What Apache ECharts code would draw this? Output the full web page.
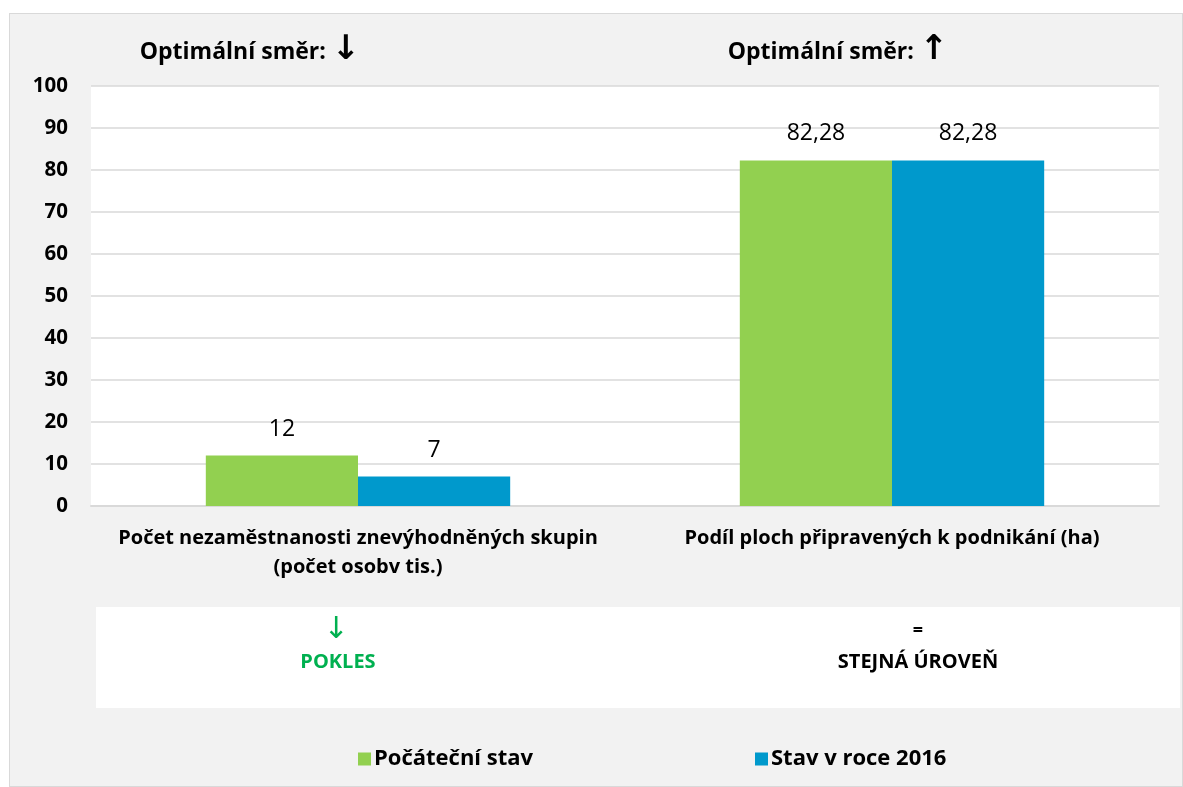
<!DOCTYPE html>
<html>
<head lang="cs">
    <meta charset="UTF-8">
    <title>Optimální směr</title>
    <script src="https://cdn.jsdelivr.net/npm/echarts@6/dist/echarts.min.js"></script>
</head>
<style type="text/css">
    body { margin: 0; background: #fff; }
    #box { position: absolute; left: 9px; top: 13px; width: 1174px; height: 774px;
           background: #f2f2f2; border: 1px solid #d9d9d9; box-sizing: border-box; }
    #main { position: absolute; left: 0; top: 0; width: 1183px; height: 787px; }
</style>
<body>
<div id="box"></div>
<div id="main"></div>
<script type="text/javascript">
    // data
    var categories = ['Počet nezaměstnanosti znevýhodněných skupin\n(počet osobv tis.)',
                      'Podíl ploch připravených k podnikání (ha)'];
    var seriesNames = ['Počáteční stav', 'Stav v roce 2016'];
    var startValues = [12, 82.28];
    var values2016 = [7, 82.28];
    var directionText = 'Optimální směr: ';
    var directionArrows = ['↓', '↑'];
    var trendSymbols = ['↓', '='];
    var trendTexts = ['POKLES', 'STEJNÁ ÚROVEŇ'];

    var font = '"Open Sans", sans-serif';
    var arrowFont = '"DejaVu Sans", sans-serif';
    var green = '#92d050', blue = '#0099cc';

    var myChart = echarts.init(document.getElementById('main'));

    function fmt(v) {
        return String(v).replace('.', ',');
    }

    function titleText(i, x) {
        return {
            type: 'text', x: x, y: 52,
            style: {
                text: '{t|' + directionText + '}{a|' + directionArrows[i] + '}',
                align: 'center', verticalAlign: 'middle', fill: '#000',
                rich: {
                    t: { fontFamily: font, fontWeight: 'bold', fontSize: 23 },
                    a: { fontFamily: arrowFont, fontWeight: 'bold', fontSize: 34, padding: [0, 0, 3, 0] }
                }
            }
        };
    }

    var legendText = { fontFamily: font, fontWeight: 'bold', fontSize: 22, color: '#000', padding: [0, 0, 0, -2] };

    var option = {
        backgroundColor: 'transparent',
        textStyle: { fontFamily: font },
        grid: {
            left: 91, top: 86, width: 1068, height: 420,
            show: true, backgroundColor: '#fff', borderWidth: 0
        },
        legend: [
            {
                left: 353, top: 743, icon: 'rect', itemWidth: 13, itemHeight: 13,
                data: [seriesNames[0]], selectedMode: false, textStyle: legendText
            },
            {
                left: 750, top: 743, icon: 'rect', itemWidth: 13, itemHeight: 13,
                data: [seriesNames[1]], selectedMode: false, textStyle: legendText
            }
        ],
        xAxis: {
            type: 'category',
            data: categories,
            axisTick: { show: false },
            axisLine: { lineStyle: { color: '#d9d9d9', width: 2 } },
            axisLabel: {
                margin: 18, color: '#000', fontFamily: font, fontWeight: 'bold',
                fontSize: 20, lineHeight: 29, interval: 0
            }
        },
        yAxis: {
            type: 'value', min: 0, max: 100, interval: 10,
            axisLine: { show: false },
            axisTick: { show: false },
            splitLine: { lineStyle: { color: '#d9d9d9', width: 1.5 } },
            axisLabel: { margin: 23, color: '#000', fontFamily: font, fontWeight: 'bold', fontSize: 20.5 }
        },
        series: [
            {
                name: seriesNames[0], type: 'bar', data: startValues,
                itemStyle: { color: green },
                barGap: '0%', barCategoryGap: '43%',
                label: { show: true, position: 'top', distance: 15, color: '#000', fontSize: 23,
                         fontFamily: font, formatter: function (p) { return fmt(p.value); } }
            },
            {
                name: seriesNames[1], type: 'bar', data: values2016,
                itemStyle: { color: blue },
                label: { show: true, position: 'top', distance: 15, color: '#000', fontSize: 23,
                         fontFamily: font, formatter: function (p) { return fmt(p.value); } }
            }
        ],
        graphic: [
            titleText(0, 250),
            titleText(1, 838),
            { type: 'rect', shape: { x: 96, y: 607, width: 1084, height: 101 }, style: { fill: '#fff' }, z: -1 },
            { type: 'text', x: 336, y: 630, style: { text: trendSymbols[0],
              align: 'center', verticalAlign: 'middle', fill: '#00b050', font: '30px ' + arrowFont } },
            { type: 'text', x: 338, y: 662, style: { text: trendTexts[0],
              align: 'center', verticalAlign: 'middle', fill: '#00b050', font: 'bold 20px ' + font } },
            { type: 'text', x: 918, y: 631, style: { text: trendSymbols[1],
              align: 'center', verticalAlign: 'middle', fill: '#000', font: 'bold 18px ' + font } },
            { type: 'text', x: 918, y: 662, style: { text: trendTexts[1],
              align: 'center', verticalAlign: 'middle', fill: '#000', font: 'bold 20px ' + font } }
        ]
    };

    myChart.setOption(option);
</script>
</body>
</html>
